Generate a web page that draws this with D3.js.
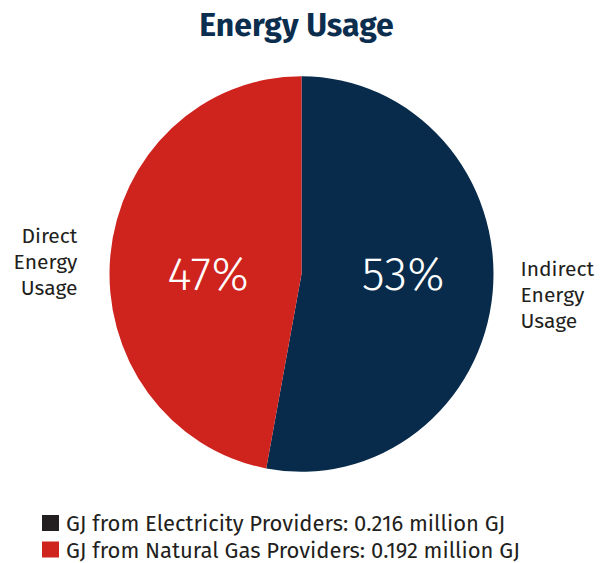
<!DOCTYPE html>
<html>
<head>
<meta charset="utf-8">
<script src="https://d3js.org/d3.v7.min.js"></script>
<style>
    body { margin: 0; background: #fff; font-family: "Fira Sans", "Noto Sans", sans-serif; }
</style>
</head>
<body>
<div id="chart"></div>
<script>
    // data
    const categories = ["Indirect Energy Usage", "Direct Energy Usage"];
    const values = [0.216, 0.192];
    const legendLabels = ["GJ from Electricity Providers: 0.216 million GJ",
                          "GJ from Natural Gas Providers: 0.192 million GJ"];
    const sliceColors = ["#082b4b", "#cf231e"];
    const legendColors = ["#231f20", "#cf231e"];

    const width = 606, height = 563;
    const cx = 301.5, cy = 274, radius = 192;

    const svg = d3.select("#chart").append("svg")
        .attr("width", width)
        .attr("height", height);

    // title
    svg.append("text")
        .attr("x", 296.5).attr("y", 36)
        .attr("text-anchor", "middle")
        .attr("font-size", "32px")
        .attr("font-weight", "bold")
        .attr("fill", "#0b2d4e")
        .text("Energy Usage");

    const pie = d3.pie().sort(null).value(d => d);
    const arcs = pie(values);
    const total = d3.sum(values);

    const arc = d3.arc().innerRadius(0).outerRadius(radius);
    const pctArc = d3.arc().innerRadius(98).outerRadius(98);
    const outArc = d3.arc().innerRadius(220).outerRadius(220);

    const g = svg.append("g")
        .attr("transform", `translate(${cx}, ${cy})`);

    // the pie is a touch taller than wide in the original
    g.append("g")
        .attr("transform", "scale(1, 1.03)")
        .selectAll("path.slice")
        .data(arcs)
        .join("path")
        .attr("class", "slice")
        .attr("d", arc)
        .attr("fill", (d, i) => sliceColors[i]);

    // percentages inside, on one line
    g.selectAll("text.pct")
        .data(arcs)
        .join("text")
        .attr("class", "pct")
        .attr("x", d => pctArc.centroid(d)[0] + 4)
        .attr("y", 0)
        .attr("dy", "0.35em")
        .attr("text-anchor", "middle")
        .attr("font-size", "47px")
        .attr("font-weight", 300)
        .attr("fill", "#fff")
        .text(d => Math.round(d.value / total * 100) + "%");

    // outside labels
    g.selectAll("text.cat")
        .data(arcs)
        .join("text")
        .attr("class", "cat")
        .attr("transform", d => {
            const c = outArc.centroid(d);
            const left = c[0] < 0;
            return `translate(${left ? c[0] - 5 : c[0]}, ${left ? c[1] + 8 : c[1]})`;
        })
        .attr("text-anchor", d => outArc.centroid(d)[0] > 0 ? "start" : "end")
        .attr("font-size", "21px")
        .attr("fill", "#231f20")
        .each(function(d, i) {
            const words = categories[i].split(" ");
            d3.select(this).selectAll("tspan")
                .data(words)
                .join("tspan")
                .attr("x", 0)
                .attr("y", (w, j) => (j - 1) * 26)
                .attr("dy", "0.35em")
                .text(w => w);
        });

    // legend
    const legend = svg.append("g")
        .attr("transform", "translate(42, 531)");

    const row = legend.selectAll("g")
        .data(legendLabels)
        .join("g")
        .attr("transform", (d, i) => `translate(0, ${i * 26.5})`);

    row.append("rect")
        .attr("y", -16)
        .attr("width", 17).attr("height", 16)
        .attr("fill", (d, i) => legendColors[i]);

    row.append("text")
        .attr("x", 24).attr("y", 0)
        .attr("font-size", "22px")
        .attr("fill", "#231f20")
        .text(d => d);
</script>
</body>
</html>
